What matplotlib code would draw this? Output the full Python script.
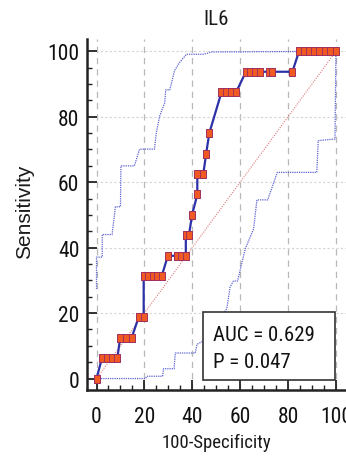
import os
import matplotlib
matplotlib.use("Agg")
import matplotlib.pyplot as plt
from matplotlib import font_manager
from matplotlib.font_manager import FontProperties
from matplotlib.patches import Rectangle
from matplotlib.ticker import MultipleLocator

# ---------------- data ----------------
title = "IL6"
x_label = "100-Specificity"
y_label = "Sensitivity"
auc_text = "AUC = 0.629"
p_text = "P = 0.047"

roc_fpr = [0, 2.3, 4.4, 6.6, 8.7, 9.9, 12.3, 14.7, 17.6, 19.7,
           19.7, 21.5, 23.4, 25.3, 27.2, 29.8, 33.6, 35.4, 37.3,
           37.3, 38.6, 39.9, 42.1, 42.1, 44.6, 45.8, 47.1,
           52.2, 54.2, 56.2, 58.3, 62.4, 64.3, 66.3, 68.2, 71.9, 73.5, 81.8,
           84.6, 86.8, 88.9, 91.0, 93.1, 95.3, 97.4, 100]
roc_tpr = [0, 6.25, 6.25, 6.25, 6.25, 12.5, 12.5, 12.5, 18.75, 18.75,
           31.25, 31.25, 31.25, 31.25, 31.25, 37.5, 37.5, 37.5, 37.5,
           43.75, 43.75, 50, 56.25, 62.5, 62.5, 68.75, 75,
           87.5, 87.5, 87.5, 87.5, 93.75, 93.75, 93.75, 93.75, 93.75, 93.75, 93.75,
           100, 100, 100, 100, 100, 100, 100, 100]

upper_x = [0, 0, 2.4, 2.4, 6.5, 7.9, 10, 10.2, 15.8, 18, 24.2, 25, 26.4,
           28.5, 28.9, 30.6, 32.6, 34.7, 37.6, 44.7, 48.2, 100]
upper_y = [27.4, 37.1, 37.1, 44, 44, 52.5, 52.5, 65, 65, 70.1, 70.1, 75.2, 80.3,
           84.3, 88.2, 88.2, 94.1, 96.6, 99.1, 99.1, 99.8, 100]

lower_x = [0, 20.5, 21, 27.6, 28, 32.4, 32.9, 41.2, 42, 44, 54.4, 55.8, 57.2,
           58.9, 62.1, 65.6, 67, 71.5, 75.5, 92, 92.6, 99.6, 100]
lower_y = [0, 0, 0.7, 0.7, 3, 3, 7.8, 7.8, 10.5, 11.2, 21.3, 28, 29.8,
           29.8, 39.6, 45.7, 54.6, 54.6, 63, 63, 72.7, 73.2, 100]

ticks = [0, 20, 40, 60, 80, 100]

# ---------------- fonts ----------------
def find_narrow():
    bad = ("italic", "oblique", "bold", "light", "medium", "thin", "black",
           "semibold", "extrabold", "extracondensed", "ultracondensed", "heavy")
    prefs = ["liberation sans narrow", "arial narrow", "roboto condensed",
             "noto sans", "open sans", "dejavu sans", "lato", "inter"]
    best = None
    for f in font_manager.fontManager.ttflist:
        fn = os.path.basename(f.fname).lower().replace("-", "").replace("_", "")
        nm = f.name.lower()
        if f.style != "normal":
            continue
        if any(b in fn for b in bad):
            continue
        narrowish = ("narrow" in nm or "condensed" in nm or "narrow" in fn
                     or "condensed" in fn or f.stretch in ("condensed", "semi-condensed"))
        if not narrowish:
            continue
        if "mono" in nm or "serif" in nm and "sans" not in nm:
            continue
        score = len(prefs)
        for i, p in enumerate(prefs):
            if nm.startswith(p):
                score = i
                break
        if "semicondensed" in fn:
            score += 0.5
        if best is None or score < best[0]:
            best = (score, f.fname)
    return best[1] if best else None

narrow_path = find_narrow()
names = {f.name for f in font_manager.fontManager.ttflist}
regular = "Liberation Sans" if "Liberation Sans" in names else "DejaVu Sans"
plt.rcParams["font.family"] = [regular, "DejaVu Sans"]


def fp(size):
    if narrow_path:
        return FontProperties(fname=narrow_path, size=size)
    return FontProperties(family=[regular, "DejaVu Sans"], size=size * 0.88)


W, H = 346, 460
fig = plt.figure(figsize=(W / 100, H / 100), dpi=100)
fig.patch.set_facecolor("white")

ax_l, ax_r, ax_t, ax_b = 87, 346, 40, 391
ax = fig.add_axes([ax_l / W, 1 - ax_b / H, (ax_r - ax_l) / W, (ax_b - ax_t) / H])
ax.set_xlim(-3.97, 104.2)
ax.set_ylim(-3.5, 103.76)

# grid
for t in ticks:
    ax.axvline(t, color="#b8b8b8", lw=0.9, ls=(0, (5, 4)), zorder=0)
for t in ticks[1:]:
    ax.axhline(t, color="#d4d4d4", lw=0.8, ls=(0, (2, 2)), zorder=0)

# diagonal reference
ax.plot([0, 100], [0, 100], color="#e07a7a", lw=0.8, ls=(0, (1, 1.2)), zorder=1)

# confidence bands
band_col = "#5b63d3"
ax.plot(upper_x, upper_y, color=band_col, lw=0.9, ls=(0, (1, 0.8)), zorder=2)
ax.plot(lower_x, lower_y, color=band_col, lw=0.9, ls=(0, (1, 0.8)), zorder=2)

# ROC curve
rect = [(-0.8, -1), (0.8, -1), (0.8, 1), (-0.8, 1), (-0.8, -1)]
ax.plot(roc_fpr, roc_tpr, color="#2d31a8", lw=1.6, zorder=3,
        marker=rect, markersize=5.8, markerfacecolor="#f05a22",
        markeredgecolor="#a03060", markeredgewidth=0.7, clip_on=False)

# spines & ticks
for s in ["top", "right"]:
    ax.spines[s].set_visible(False)
for s in ["left", "bottom"]:
    ax.spines[s].set_linewidth(1.8)
    ax.spines[s].set_color("#222222")

ax.set_xticks(ticks)
ax.set_yticks(ticks)
ax.xaxis.set_minor_locator(MultipleLocator(5))
ax.yaxis.set_minor_locator(MultipleLocator(5))
ax.tick_params(axis="both", which="major", direction="in", length=7, width=1.3,
               color="#222222", labelcolor="#111111")
ax.tick_params(axis="both", which="minor", direction="in", length=3.5, width=1.0,
               color="#222222")
ax.tick_params(axis="y", which="major", pad=5.5)
ax.tick_params(axis="x", which="major", pad=11.5)
for lab in ax.get_xticklabels() + ax.get_yticklabels():
    lab.set_fontproperties(fp(15.5))

# AUC box
ax.add_patch(Rectangle((0.449, 0.028), 0.9575 - 0.449, 0.221 - 0.028,
                       transform=ax.transAxes, facecolor="white",
                       edgecolor="#333333", lw=1.2, zorder=5))
ax.text(0.488, 0.1429, auc_text, transform=ax.transAxes, fontproperties=fp(15),
        color="#111111", ha="left", va="baseline", zorder=6)
ax.text(0.488, 0.0666, p_text, transform=ax.transAxes, fontproperties=fp(15),
        color="#111111", ha="left", va="baseline", zorder=6)

# labels & title
fig.text(216 / W, 1 - 25 / H, title, ha="center", va="baseline",
         fontproperties=fp(15), color="#1a1a1a")
fig.text(216 / W, 1 - 448 / H, x_label, ha="center", va="baseline",
         fontproperties=fp(13.5), color="#1a1a1a")
fig.text(25 / W, 1 - 211.5 / H, y_label, ha="center", va="center",
         rotation=90, fontsize=15, color="#1a1a1a", family=[regular, "DejaVu Sans"])

fig.savefig("out.png", dpi=100)
